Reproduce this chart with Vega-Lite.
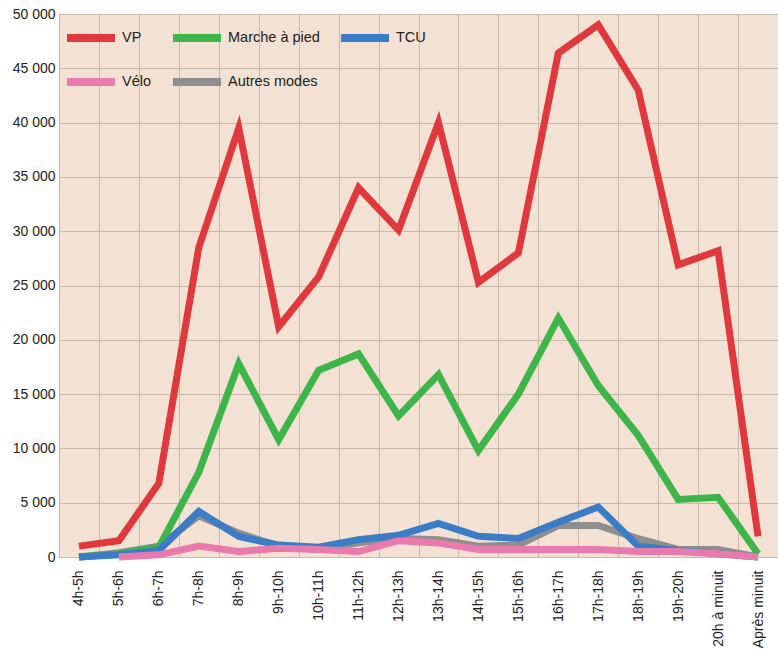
{
  "$schema": "https://vega.github.io/schema/vega-lite/v6.json",
  "width": 719,
  "height": 543,
  "autosize": {"type": "none"},
  "padding": {"left": 59, "top": 14, "right": 0, "bottom": 97},
  "background": "white",
  "config": {
    "locale": {"number": {"decimal": ",", "thousands": " ", "grouping": [3], "currency": ["", " €"]}},
    "view": {"fill": "#f3e2d4", "stroke": "#bdb3aa", "strokeWidth": 1},
    "font": "Liberation Sans"
  },
  "data": {
    "values": [
      {"heure": "4h-5h", "mode": "Autres modes", "valeur": 0},
      {"heure": "5h-6h", "mode": "Autres modes", "valeur": 400},
      {"heure": "6h-7h", "mode": "Autres modes", "valeur": 1000},
      {"heure": "7h-8h", "mode": "Autres modes", "valeur": 3800},
      {"heure": "8h-9h", "mode": "Autres modes", "valeur": 2200},
      {"heure": "9h-10h", "mode": "Autres modes", "valeur": 1000},
      {"heure": "10h-11h", "mode": "Autres modes", "valeur": 700},
      {"heure": "11h-12h", "mode": "Autres modes", "valeur": 1300},
      {"heure": "12h-13h", "mode": "Autres modes", "valeur": 1700},
      {"heure": "13h-14h", "mode": "Autres modes", "valeur": 1600},
      {"heure": "14h-15h", "mode": "Autres modes", "valeur": 1000},
      {"heure": "15h-16h", "mode": "Autres modes", "valeur": 1100},
      {"heure": "16h-17h", "mode": "Autres modes", "valeur": 2900},
      {"heure": "17h-18h", "mode": "Autres modes", "valeur": 2900},
      {"heure": "18h-19h", "mode": "Autres modes", "valeur": 1700},
      {"heure": "19h-20h", "mode": "Autres modes", "valeur": 700},
      {"heure": "20h à minuit", "mode": "Autres modes", "valeur": 700},
      {"heure": "Après minuit", "mode": "Autres modes", "valeur": 0},

      {"heure": "4h-5h", "mode": "Marche à pied", "valeur": 0},
      {"heure": "5h-6h", "mode": "Marche à pied", "valeur": 300},
      {"heure": "6h-7h", "mode": "Marche à pied", "valeur": 900},
      {"heure": "7h-8h", "mode": "Marche à pied", "valeur": 7800},
      {"heure": "8h-9h", "mode": "Marche à pied", "valeur": 17800},
      {"heure": "9h-10h", "mode": "Marche à pied", "valeur": 10800},
      {"heure": "10h-11h", "mode": "Marche à pied", "valeur": 17200},
      {"heure": "11h-12h", "mode": "Marche à pied", "valeur": 18700},
      {"heure": "12h-13h", "mode": "Marche à pied", "valeur": 13000},
      {"heure": "13h-14h", "mode": "Marche à pied", "valeur": 16800},
      {"heure": "14h-15h", "mode": "Marche à pied", "valeur": 9800},
      {"heure": "15h-16h", "mode": "Marche à pied", "valeur": 15000},
      {"heure": "16h-17h", "mode": "Marche à pied", "valeur": 22000},
      {"heure": "17h-18h", "mode": "Marche à pied", "valeur": 15800},
      {"heure": "18h-19h", "mode": "Marche à pied", "valeur": 11200},
      {"heure": "19h-20h", "mode": "Marche à pied", "valeur": 5300},
      {"heure": "20h à minuit", "mode": "Marche à pied", "valeur": 5500},
      {"heure": "Après minuit", "mode": "Marche à pied", "valeur": 300},

      {"heure": "4h-5h", "mode": "VP", "valeur": 1000},
      {"heure": "5h-6h", "mode": "VP", "valeur": 1500},
      {"heure": "6h-7h", "mode": "VP", "valeur": 6800},
      {"heure": "7h-8h", "mode": "VP", "valeur": 28500},
      {"heure": "8h-9h", "mode": "VP", "valeur": 39500},
      {"heure": "9h-10h", "mode": "VP", "valeur": 21200},
      {"heure": "10h-11h", "mode": "VP", "valeur": 25800},
      {"heure": "11h-12h", "mode": "VP", "valeur": 34000},
      {"heure": "12h-13h", "mode": "VP", "valeur": 30100},
      {"heure": "13h-14h", "mode": "VP", "valeur": 40000},
      {"heure": "14h-15h", "mode": "VP", "valeur": 25300},
      {"heure": "15h-16h", "mode": "VP", "valeur": 28000},
      {"heure": "16h-17h", "mode": "VP", "valeur": 46400},
      {"heure": "17h-18h", "mode": "VP", "valeur": 49000},
      {"heure": "18h-19h", "mode": "VP", "valeur": 43000},
      {"heure": "19h-20h", "mode": "VP", "valeur": 26900},
      {"heure": "20h à minuit", "mode": "VP", "valeur": 28200},
      {"heure": "Après minuit", "mode": "VP", "valeur": 1900},

      {"heure": "4h-5h", "mode": "TCU", "valeur": 0},
      {"heure": "5h-6h", "mode": "TCU", "valeur": 200},
      {"heure": "6h-7h", "mode": "TCU", "valeur": 600},
      {"heure": "7h-8h", "mode": "TCU", "valeur": 4200},
      {"heure": "8h-9h", "mode": "TCU", "valeur": 1900},
      {"heure": "9h-10h", "mode": "TCU", "valeur": 1100},
      {"heure": "10h-11h", "mode": "TCU", "valeur": 900},
      {"heure": "11h-12h", "mode": "TCU", "valeur": 1600},
      {"heure": "12h-13h", "mode": "TCU", "valeur": 2000},
      {"heure": "13h-14h", "mode": "TCU", "valeur": 3100},
      {"heure": "14h-15h", "mode": "TCU", "valeur": 1900},
      {"heure": "15h-16h", "mode": "TCU", "valeur": 1700},
      {"heure": "16h-17h", "mode": "TCU", "valeur": 3200},
      {"heure": "17h-18h", "mode": "TCU", "valeur": 4600},
      {"heure": "18h-19h", "mode": "TCU", "valeur": 1000},
      {"heure": "19h-20h", "mode": "TCU", "valeur": 600},
      {"heure": "20h à minuit", "mode": "TCU", "valeur": 300},
      {"heure": "Après minuit", "mode": "TCU", "valeur": 0},

      {"heure": "5h-6h", "mode": "Vélo", "valeur": 0},
      {"heure": "6h-7h", "mode": "Vélo", "valeur": 200},
      {"heure": "7h-8h", "mode": "Vélo", "valeur": 1000},
      {"heure": "8h-9h", "mode": "Vélo", "valeur": 500},
      {"heure": "9h-10h", "mode": "Vélo", "valeur": 800},
      {"heure": "10h-11h", "mode": "Vélo", "valeur": 700},
      {"heure": "11h-12h", "mode": "Vélo", "valeur": 500},
      {"heure": "12h-13h", "mode": "Vélo", "valeur": 1500},
      {"heure": "13h-14h", "mode": "Vélo", "valeur": 1300},
      {"heure": "14h-15h", "mode": "Vélo", "valeur": 700},
      {"heure": "15h-16h", "mode": "Vélo", "valeur": 700},
      {"heure": "16h-17h", "mode": "Vélo", "valeur": 700},
      {"heure": "17h-18h", "mode": "Vélo", "valeur": 700},
      {"heure": "18h-19h", "mode": "Vélo", "valeur": 500},
      {"heure": "19h-20h", "mode": "Vélo", "valeur": 500},
      {"heure": "20h à minuit", "mode": "Vélo", "valeur": 300},
      {"heure": "Après minuit", "mode": "Vélo", "valeur": 0}
    ]
  },
  "mark": {"type": "line", "strokeWidth": 7, "strokeJoin": "miter", "strokeCap": "butt"},
  "encoding": {
    "x": {
      "field": "heure",
      "type": "nominal",
      "bandPosition": 0.5,
      "sort": ["4h-5h","5h-6h","6h-7h","7h-8h","8h-9h","9h-10h","10h-11h","11h-12h","12h-13h","13h-14h","14h-15h","15h-16h","16h-17h","17h-18h","18h-19h","19h-20h","20h à minuit","Après minuit"],
      "scale": {"type": "band", "paddingInner": 0, "paddingOuter": 0},
      "axis": {
        "title": null,
        "labelAngle": 270,
        "labelFontSize": 14,
        "labelColor": "#222",
        "labelPadding": 13,
        "ticks": false,
        "domain": false,
        "grid": true,
        "tickBand": "extent",
        "gridColor": "#c9b9ab",
        "gridWidth": 1
      }
    },
    "y": {
      "field": "valeur",
      "type": "quantitative",
      "scale": {"domain": [0, 50000], "nice": false},
      "axis": {
        "title": null,
        "values": [0,5000,10000,15000,20000,25000,30000,35000,40000,45000,50000],
        "format": ",d",
        "labelFontSize": 14,
        "labelColor": "#222",
        "labelPadding": 4,
        "ticks": false,
        "domain": false,
        "gridColor": "#c9b9ab",
        "gridWidth": 1
      }
    },
    "color": {
      "field": "mode",
      "type": "nominal",
      "scale": {
        "domain": ["VP", "Marche à pied", "TCU", "Vélo", "Autres modes"],
        "range": ["#e0393d", "#3db54a", "#3a7dc6", "#e87aae", "#8e8e8e"]
      },
      "legend": {
        "title": null,
        "orient": "none",
        "legendX": 4,
        "legendY": -4,
        "direction": "horizontal",
        "columns": 3,
        "symbolType": "stroke",
        "symbolSize": 2304,
        "symbolStrokeWidth": 8,
        "labelFontSize": 14.5,
        "labelColor": "#222",
        "labelOffset": 3,
        "columnPadding": 5,
        "rowPadding": -8
      }
    }
  }
}
